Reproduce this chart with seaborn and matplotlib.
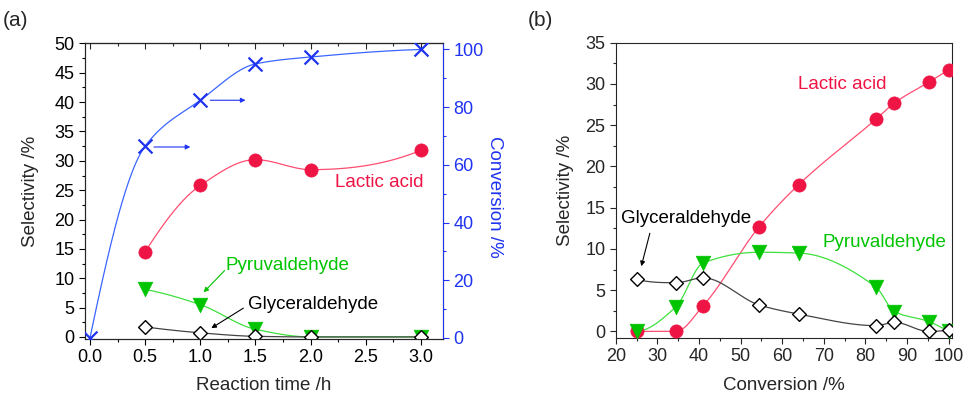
import numpy as np
import pandas as pd
import matplotlib
matplotlib.use("Agg")
import matplotlib.pyplot as plt
from matplotlib.ticker import MultipleLocator
import seaborn as sns

# ---------------- data ----------------
# panel (a)
time_h = [0.5, 1.0, 1.5, 2.0, 3.0]
lactic_a = [14.5, 25.8, 30.2, 28.5, 31.8]
pyruv_a = [8.1, 5.5, 1.3, 0.0, 0.0]
glycer_a = [1.7, 0.7, 0.1, 0.0, 0.0]
conv_time = [0.0, 0.5, 1.0, 1.5, 2.0, 3.0]
conversion = [0.0, 66.5, 82.4, 95.0, 97.4, 100.0]

# panel (b)
conv_b = [25.0, 34.5, 41.0, 54.5, 64.0, 82.5, 87.0, 95.2, 100.0]
lactic_b = [0.0, 0.0, 3.1, 12.7, 17.8, 25.7, 27.7, 30.2, 31.7]
pyruv_b = [0.0, 3.0, 8.3, 9.6, 9.5, 5.4, 2.4, 1.2, 0.0]
glycer_b = [6.3, 5.9, 6.5, 3.2, 2.1, 0.7, 1.1, 0.0, 0.2]

RED_M, RED_L = "#ee1545", "#ff4d70"
GRN_M, GRN_L = "#00c400", "#3ee03e"
BLU_M, BLU_L = "#1f33f0", "#3a66ff"
BLK_L = "#444444"


def pchip(x, y, n=300):
    x = np.asarray(x, float)
    y = np.asarray(y, float)
    h = np.diff(x)
    dl = np.diff(y) / h
    m = len(x)
    d = np.zeros(m)
    for k in range(1, m - 1):
        if dl[k - 1] * dl[k] > 0:
            w1 = 2 * h[k] + h[k - 1]
            w2 = h[k] + 2 * h[k - 1]
            d[k] = (w1 + w2) / (w1 / dl[k - 1] + w2 / dl[k])

    def end(h0, h1, d0, d1):
        v = ((2 * h0 + h1) * d0 - h0 * d1) / (h0 + h1)
        if np.sign(v) != np.sign(d0):
            v = 0.0
        elif np.sign(d0) != np.sign(d1) and abs(v) > abs(3 * d0):
            v = 3 * d0
        return v

    d[0] = end(h[0], h[1], dl[0], dl[1])
    d[-1] = end(h[-1], h[-2], dl[-1], dl[-2])
    xs = np.linspace(x[0], x[-1], n)
    idx = np.clip(np.searchsorted(x, xs) - 1, 0, m - 2)
    t = (xs - x[idx]) / h[idx]
    h00 = 2 * t**3 - 3 * t**2 + 1
    h10 = t**3 - 2 * t**2 + t
    h01 = -2 * t**3 + 3 * t**2
    h11 = t**3 - t**2
    ys = h00 * y[idx] + h10 * h[idx] * d[idx] + h01 * y[idx + 1] + h11 * h[idx] * d[idx + 1]
    return xs, ys


sns.set_style("ticks")
plt.rcParams["font.family"] = ["Liberation Sans", "DejaVu Sans"]
plt.rcParams["axes.linewidth"] = 0.8

fig = plt.figure(figsize=(9.66, 3.95), dpi=100)
axA = fig.add_axes([0.088, 0.1418, 0.3706, 0.749])
axB = fig.add_axes([0.6374, 0.1443, 0.3484, 0.7476])

LW = 0.9
TICKFS = 13
LABFS = 13.5


def curve(ax, x, y, color, z=2):
    xs, ys = pchip(x, y)
    sns.lineplot(x=xs, y=ys, ax=ax, color=color, lw=LW, zorder=z, sort=False)


def points(ax, x, y, kind, z=4):
    if kind == "o":
        sns.scatterplot(x=x, y=y, ax=ax, marker="o", s=9.5**2, color=RED_M,
                        edgecolor=RED_M, linewidth=0.5, zorder=z)
    elif kind == "v":
        sns.scatterplot(x=x, y=y, ax=ax, marker="v", s=10.5**2, color=GRN_M,
                        edgecolor=GRN_M, linewidth=0.5, zorder=z)
    elif kind == "D":
        sns.scatterplot(x=x, y=y, ax=ax, marker="D", s=7**2, color="white",
                        edgecolor="black", linewidth=1.0, zorder=z)
    elif kind == "x":
        sns.scatterplot(x=x, y=y, ax=ax, marker="x", s=10**2, color=BLU_M,
                        linewidth=1.6, zorder=z)


# ---------------- panel (a) ----------------
curve(axA, time_h, lactic_a, RED_L)
curve(axA, time_h, pyruv_a, GRN_L)
curve(axA, time_h, glycer_a, BLK_L)
points(axA, time_h, lactic_a, "o", 4)
points(axA, time_h, pyruv_a, "v", 5)
points(axA, time_h, glycer_a, "D", 6)

axA.set_xlim(-0.045, 3.2)
axA.set_ylim(-0.35, 50.05)
axA.xaxis.set_major_locator(MultipleLocator(0.5))
axA.xaxis.set_minor_locator(MultipleLocator(0.25))
axA.yaxis.set_major_locator(MultipleLocator(5))
axA.yaxis.set_minor_locator(MultipleLocator(2.5))
axA.xaxis.set_major_formatter(matplotlib.ticker.FormatStrFormatter("%.1f"))
axA.tick_params(which="both", direction="out", labelsize=TICKFS, width=0.8, colors="black")
axA.tick_params(which="major", length=4.5, pad=3)
axA.tick_params(which="minor", length=2.5)
axA.set_xlabel("Reaction time /h", fontsize=LABFS, labelpad=7.5)
axA.set_ylabel("Selectivity /%", fontsize=LABFS, labelpad=11)

top = axA.secondary_xaxis("top")
top.xaxis.set_major_locator(MultipleLocator(0.5))
top.xaxis.set_minor_locator(MultipleLocator(0.25))
top.tick_params(which="both", direction="in", labeltop=False, width=0.8)
top.tick_params(which="major", length=4)
top.tick_params(which="minor", length=2.5)

axR = axA.twinx()
curve(axR, conv_time, conversion, BLU_L)
points(axR, conv_time, conversion, "x", 5)
axR.set_ylim(-0.35, 102.2)
axR.yaxis.set_major_locator(MultipleLocator(20))
axR.yaxis.set_minor_locator(MultipleLocator(10))
axR.tick_params(which="both", direction="out", labelsize=TICKFS, colors=BLU_M, width=0.8)
axR.tick_params(which="major", length=4.5, pad=3)
axR.tick_params(which="minor", length=2.5)
axR.spines["right"].set_color(BLU_M)
axR.set_ylabel("Conversion /%", fontsize=LABFS, color=BLU_M, rotation=270,
               va="bottom", labelpad=2)
axR.yaxis.label.set_y(0.48)
axR.set_xlim(-0.045, 3.2)

# annotations (a)
axA.text(2.22, 26.3, "Lactic acid", color=RED_M, fontsize=LABFS, va="center", ha="left")
axA.text(1.23, 12.2, "Pyruvaldehyde", color=GRN_M, fontsize=LABFS, va="center", ha="left")
axA.text(1.43, 5.6, "Glyceraldehyde", color="black", fontsize=LABFS, va="center", ha="left")
arrow = dict(arrowstyle="-|>", lw=0.8, mutation_scale=7, shrinkA=0, shrinkB=0)
axA.annotate("", xy=(1.03, 7.6), xytext=(1.22, 11.3), arrowprops=dict(arrow, color=GRN_M))
axA.annotate("", xy=(1.10, 1.5), xytext=(1.39, 4.9), arrowprops=dict(arrow, color="black"))
axR.annotate("", xy=(0.91, 66.2), xytext=(0.58, 66.2), arrowprops=dict(arrow, color=BLU_M))
axR.annotate("", xy=(1.41, 82.4), xytext=(1.09, 82.4), arrowprops=dict(arrow, color=BLU_M))

# ---------------- panel (b) ----------------
curve(axB, conv_b, lactic_b, RED_L)
curve(axB, conv_b, pyruv_b, GRN_L)
curve(axB, conv_b, glycer_b, BLK_L)
points(axB, conv_b, lactic_b, "o", 4)
points(axB, conv_b, pyruv_b, "v", 5)
points(axB, conv_b, glycer_b, "D", 6)

axB.set_xlim(20, 100.9)
axB.set_ylim(-0.8, 35)
axB.xaxis.set_major_locator(MultipleLocator(10))
axB.xaxis.set_minor_locator(MultipleLocator(5))
axB.yaxis.set_major_locator(MultipleLocator(5))
axB.yaxis.set_minor_locator(MultipleLocator(2.5))
axB.tick_params(which="both", direction="out", labelsize=TICKFS, width=0.8)
axB.tick_params(which="major", length=4.5, pad=3)
axB.tick_params(which="minor", length=2.5)
axB.set_xlabel("Conversion /%", fontsize=LABFS, labelpad=8.5)
axB.set_ylabel("Selectivity /%", fontsize=LABFS, labelpad=8)

axB.text(63.8, 29.96, "Lactic acid", color=RED_M, fontsize=LABFS, va="center", ha="left")
axB.text(69.7, 10.8, "Pyruvaldehyde", color=GRN_M, fontsize=LABFS, va="center", ha="left")
axB.text(21.35, 13.65, "Glyceraldehyde", color="black", fontsize=LABFS, va="center", ha="left")
axB.annotate("", xy=(26.15, 7.9), xytext=(28.2, 11.9), arrowprops=dict(arrow, color="black"))

for ax in (axA, axB, axR):
    for s in ax.spines.values():
        s.set_linewidth(0.8)

fig.text(3 / 966, 1 - 21 / 395, "(a)", fontsize=15, va="center", ha="left")
fig.text(528 / 966, 1 - 21 / 395, "(b)", fontsize=15, va="center", ha="left")

fig.savefig("out.png", dpi=100)
